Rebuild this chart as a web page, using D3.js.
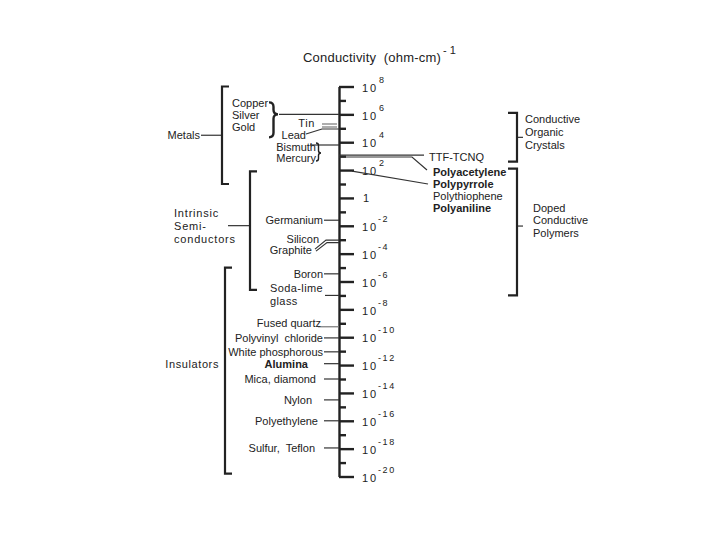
<!DOCTYPE html>
<html>
<head>
<meta charset="utf-8">
<script src="https://cdn.jsdelivr.net/npm/d3@7"></script>
<style>
  body { margin: 0; background: #fff; }
  svg { display: block; font-family: "Liberation Sans", Arial, Helvetica, sans-serif; }
  text { fill: #222; }
</style>
</head>
<body>
<svg id="chart" width="720" height="540"></svg>
<script>
// all values are log10 of conductivity in (ohm-cm)^-1
const majorTicks = [8, 6, 4, 2, 0, -2, -4, -6, -8, -10, -12, -14, -16, -18, -20];
const minorTicks = [7, 5, 3, 1, -1, -3, -5, -7, -9, -11, -13, -15, -17, -19];

const leftNames = [["Copper", "Silver", "Gold"], ["Tin"], ["Lead"], ["Bismuth", "Mercury"],
  ["Germanium"], ["Silicon", "Graphite"], ["Boron"], ["Soda-lime", "glass"], ["Fused quartz"],
  ["Polyvinyl  chloride"], ["White phosphorous"], ["Alumina"], ["Mica, diamond"], ["Nylon"],
  ["Polyethylene"], ["Sulfur,  Teflon"]];
const leftLog = [6.0, 5.2, 4.95, 3.8, -1.6, -3.1, -5.45, -7.0, -9.25, -10.05, -11.05, -11.9,
  -13.0, -14.5, -16.0, -17.95];

const rightNames = ["TTF-TCNQ", "Polyacetylene", "Polypyrrole", "Polythiophene", "Polyaniline"];
const rightLog = [3.08, 2.94, 1.93, null, null];

const groupNames = [["Metals"], ["Intrinsic", "Semi-", "conductors"], ["Insulators"],
  ["Conductive", "Organic", "Crystals"], ["Doped", "Conductive", "Polymers"]];
const groupTop = [8, 1.9, -5, 6.1, 2.1];
const groupBottom = [1, -6.6, -19.8, 2.6, -7];

const svg = d3.select("#chart");
svg.append("rect").attr("width", 720).attr("height", 540).attr("fill", "#fff");

const y = d3.scaleLinear().domain([8, -20]).range([86.5, 476.5]);
const axisX = 339;
const ink = "#222";

// title
const title = svg.append("text").attr("x", 303).attr("y", 62)
  .attr("font-size", 13).attr("letter-spacing", 0.2)
  .attr("xml:space", "preserve").text("Conductivity  (ohm-cm)");
svg.append("text").attr("x", 443).attr("y", 54).attr("font-size", 11)
  .attr("xml:space", "preserve").text("- 1");

// axis
const major = svg.append("g").attr("transform", `translate(${axisX},0)`)
  .call(d3.axisRight(y).tickValues(majorTicks).tickSize(15).tickSizeOuter(0).tickFormat(""));
const minor = svg.append("g").attr("transform", `translate(${axisX},0)`)
  .call(d3.axisRight(y).tickValues(minorTicks).tickSize(7).tickSizeOuter(0).tickFormat(""));
minor.select(".domain").remove();
svg.selectAll(".domain, .tick line").attr("stroke", ink).attr("stroke-width", 2.4);

// tick labels 10^n
const tl = svg.append("g");
majorTicks.forEach(e => {
  const ty = y(e);
  if (e === 0) {
    tl.append("text").attr("x", 363).attr("y", ty).attr("dy", "0.38em")
      .attr("font-size", 11).text("1");
    return;
  }
  tl.append("text").attr("x", 362).attr("y", ty + 1).attr("dy", "0.38em")
    .attr("font-size", 11).attr("letter-spacing", 2).text("10");
  tl.append("text").attr("x", e < 0 ? 378 : 379).attr("y", ty - 7).attr("dy", "0.35em")
    .attr("font-size", 9).attr("letter-spacing", e < 0 ? 1.6 : 0).text(String(e));
});

// helpers
const leader = svg.append("g").attr("fill", "none").attr("stroke", "#333").attr("stroke-width", 1.2);
const line = d3.line();
function brace(x, y0, y1, ym, w) {
  const h = w / 2;
  return `M${x},${y0} Q${x + h},${y0} ${x + h},${y0 + h} L${x + h},${ym - h} ` +
    `Q${x + h},${ym} ${x + w},${ym} Q${x + h},${ym} ${x + h},${ym + h} ` +
    `L${x + h},${y1 - h} Q${x + h},${y1} ${x},${y1}`;
}
function label(lines, x, cy, anchor, opts = {}) {
  const step = opts.step || 12;
  const t = svg.append("text").attr("font-size", opts.size || 11)
    .attr("text-anchor", anchor).attr("xml:space", "preserve")
    .attr("font-weight", opts.bold ? "bold" : null)
    .attr("letter-spacing", opts.ls || null);
  const y0 = cy - (lines.length - 1) * step / 2;
  lines.forEach((s, i) => {
    t.append("tspan").attr("x", x).attr("y", y0 + i * step).attr("dy", "0.36em").text(s);
  });
  return t;
}

// left-side materials
const textEndGap = { "Alumina": 15, "Mica, diamond": 7, "Nylon": 11, "Polyethylene": 5, "Sulfur,  Teflon": 8 };
const boldNames = ["Alumina"];
leftNames.forEach((names, i) => {
  const yv = y(leftLog[i]);
  const key = names.join(" ");
  if (key === "Copper Silver Gold") {
    label(names, 232, yv + 1, "start");
    svg.append("path").attr("d", brace(269, yv - 12, yv + 23, yv, 9))
      .attr("fill", "none").attr("stroke", ink).attr("stroke-width", 2.4);
    leader.append("path").attr("d", line([[279, yv], [axisX, yv]]));
  } else if (key === "Tin") {
    label(names, 315, yv - 2, "start" === "x" ? "start" : "end", { ls: 0.6 });
    leader.append("path").attr("d", line([[322, yv - 1.5], [337, yv - 1.5]])).attr("stroke", "#777");
    leader.append("path").attr("d", line([[322, yv + 1.5], [337, yv + 1.5]])).attr("stroke", "#777");
  } else if (key === "Lead") {
    label(names, 306, yv + 6, "end");
    leader.append("path").attr("d", line([[306, yv + 5], [322, yv], [axisX, yv]]));
  } else if (key === "Bismuth Mercury") {
    label(names, 316, yv + 8, "end", { step: 11 });
    leader.append("path").attr("d", line([[310, yv], [axisX, yv]]));
    svg.append("path").attr("d", brace(316, yv - 2, yv + 16, yv + 8, 5))
      .attr("fill", "none").attr("stroke", ink).attr("stroke-width", 1.4);
  } else if (key === "Silicon Graphite") {
    label(["Silicon"], 319, yv - 2, "end");
    label(["Graphite"], 312, yv + 9, "end");
    leader.append("path").attr("d", line([[315, yv + 8], [326, yv - 1], [axisX, yv - 1]]));
    leader.append("path").attr("d", line([[316, yv + 10], [327, yv + 1.5], [axisX, yv + 1.5]]));
  } else if (key === "Soda-lime glass") {
    label(names, 270, yv - 0.5, "start", { step: 13, ls: 0.4 });
    leader.append("path").attr("d", line([[325, yv], [axisX, yv]]));
  } else if (key === "Fused quartz") {
    label(names, 321, yv - 4, "end");
    leader.append("path").attr("d", line([[318, yv], [axisX, yv]])).attr("stroke", "#777");
  } else {
    const gap = textEndGap[key] || 0;
    label(names, 323 - gap, yv, "end", { bold: boldNames.includes(key) });
    leader.append("path").attr("d", line([[324, yv], [axisX, yv]]));
  }
});

// right-side materials
rightNames.forEach((name, i) => {
  const cy = i === 0 ? y(rightLog[0]) + 2 : 172 + (i - 1) * 12;
  label([name], i === 0 ? 429 : 433, cy, "start", { bold: i > 0 && i !== 3 });
});
leader.append("path").attr("d", line([[axisX, y(rightLog[0])], [424, y(rightLog[0])]]));
leader.append("path").attr("d", line([[axisX, y(rightLog[1])], [412, y(rightLog[1])], [427, 170]]));
leader.append("path").attr("d", line([[352, y(rightLog[2])], [428, 184]]));

// group brackets
const groupLayout = [
  { x: 222, dir: 1, text: [200, "end"], dy: 0, join: [201, 222] },
  { x: 250, dir: 1, text: [174, "start"], dy: -5, join: [228, 250], ls: 0.8, step: 13 },
  { x: 225, dir: 1, text: [219, "end"], dy: -7, ls: 0.6 },
  { x: 517, dir: -1, text: [525, "start"], dy: -5, tick: true, step: 13 },
  { x: 517, dir: -1, text: [533, "start"], dy: -12, tick: true, step: 12.5, tickDy: -6 }
];
const brackets = svg.append("g").attr("fill", "none").attr("stroke", ink).attr("stroke-width", 2.2);
groupNames.forEach((names, i) => {
  const L = groupLayout[i];
  const y0 = y(groupTop[i]), y1 = y(groupBottom[i]), ym = (y0 + y1) / 2;
  const s = L.dir * (L.dir > 0 ? 7 : 9);
  brackets.append("path").attr("d", `M${L.x + s},${y0} H${L.x} V${y1} H${L.x + s}`);
  const cy = ym + L.dy;
  label(names, L.text[0], cy, L.text[1], { ls: L.ls, step: L.step || 13 });
  if (L.join) leader.append("path").attr("d", line([[L.join[0], cy], [L.join[1], cy]]));
  if (L.tick) leader.append("path").attr("d", line([[L.x, ym + (L.tickDy || 0)], [L.x + 6, ym + (L.tickDy || 0)]]));
});
</script>
</body>
</html>
